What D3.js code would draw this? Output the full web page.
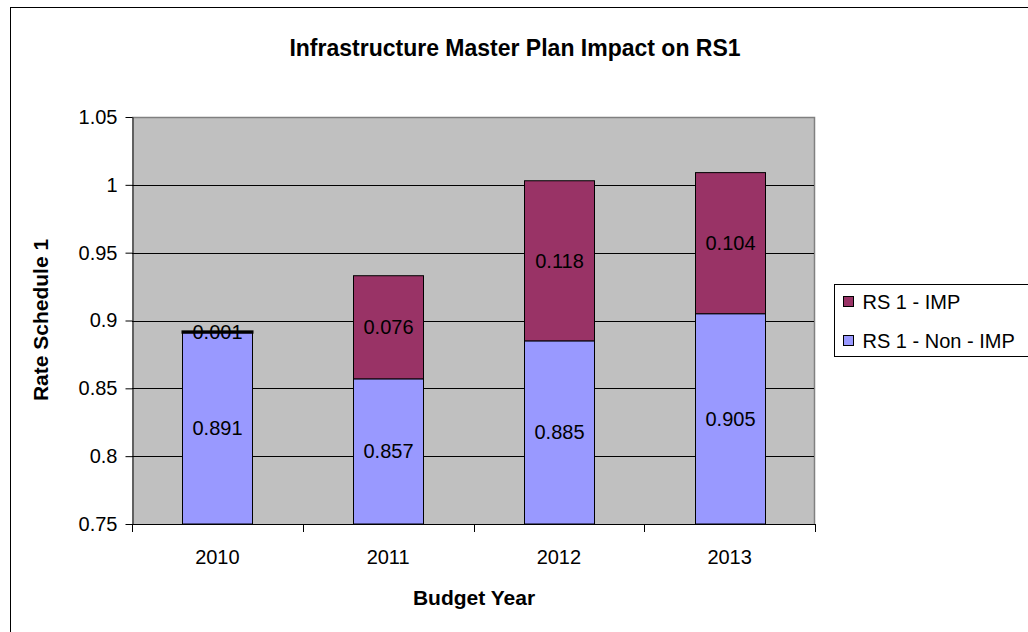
<!DOCTYPE html>
<html>
<head>
<meta charset="utf-8">
<script src="https://cdn.jsdelivr.net/npm/d3@7/dist/d3.min.js"></script>
<style>
  html,body{margin:0;padding:0;background:#fff;}
  svg{display:block;font-family:Arial,"Liberation Sans",sans-serif;}
</style>
</head>
<body>
<svg id="chart" width="1028" height="632"></svg>
<script>
const years=['2010','2011','2012','2013'];
const nonImp=[0.891,0.857,0.885,0.905];
const imp=[0.001,0.076,0.118,0.104];
const yTicks=[0.75,0.8,0.85,0.9,0.95,1,1.05];
const seriesNames=['RS 1 - IMP','RS 1 - Non - IMP'];
const colors={imp:'#993366',non:'#9999ff'};

const FS=20;
const svg=d3.select('#chart');
const m={l:132,r:815,t:117,b:524};

// outer chart frame (cut by the window at right and bottom)
svg.append('rect').attr('x',10.5).attr('y',7.5).attr('width',1100).attr('height',700)
  .attr('fill','#fff').attr('stroke','#000').attr('stroke-width',1);

const x=d3.scaleBand().domain(years).range([m.l,m.r]).paddingInner(0.59).paddingOuter(0.295);
const y=d3.scaleLinear().domain([0.75,1.05]).range([m.b,m.t]);

// plot area
svg.append('rect').attr('x',m.l).attr('y',m.t).attr('width',m.r-m.l).attr('height',m.b-m.t).attr('fill','#c0c0c0');
svg.append('path').attr('d',`M${m.l},${m.t+0.5}H${m.r-0.5}V${m.b}`).attr('fill','none').attr('stroke','#808080').attr('stroke-width',1.5);

// gridlines
svg.append('g').selectAll('line').data(yTicks.slice(1,-1)).join('line')
  .attr('x1',m.l).attr('x2',m.r-1).attr('y1',d=>Math.round(y(d))+0.5).attr('y2',d=>Math.round(y(d))+0.5)
  .attr('stroke','#000').attr('stroke-width',1);

// bars
const rows=years.map((yr,i)=>({yr,non:nonImp[i],imp:imp[i]}));
const g=svg.append('g');
rows.forEach(d=>{
  const bx=Math.round(x(d.yr))+0.5,bw=Math.round(x.bandwidth());
  const y0=y(0.75),y1=y(d.non),y2=y(d.non+d.imp);
  g.append('rect').attr('x',bx).attr('y',y1).attr('width',bw).attr('height',y0-y1)
    .attr('fill',colors.non).attr('stroke','#000').attr('stroke-width',1);
  g.append('rect').attr('x',bx).attr('y',y2).attr('width',bw).attr('height',Math.max(0.5,y1-y2))
    .attr('fill',colors.imp).attr('stroke','#000').attr('stroke-width',d.imp<0.005?2:1);
  g.append('text').attr('x',bx+bw/2).attr('y',(y0+y1)/2).attr('dy','0.35em')
    .attr('text-anchor','middle').attr('font-size',FS).attr('fill','#000').text(d.non);
  g.append('text').attr('x',bx+bw/2).attr('y',(y1+y2)/2).attr('dy','0.35em')
    .attr('text-anchor','middle').attr('font-size',FS).attr('fill','#000').text(d.imp);
});

// axes
const yAxis=svg.append('g').attr('transform',`translate(${m.l+0.5},0)`)
  .call(d3.axisLeft(y).tickValues(yTicks).tickSize(7).tickSizeOuter(0).tickPadding(8).tickFormat(d=>String(d)));
yAxis.select('.domain').attr('stroke','#000');
yAxis.selectAll('.tick line').attr('stroke','#000');
yAxis.selectAll('text').attr('font-size',FS).attr('fill','#000').attr('font-family','Arial,"Liberation Sans",sans-serif');

const xAxis=svg.append('g').attr('transform',`translate(0,${m.b+0.5})`)
  .call(d3.axisBottom(x).tickSize(0).tickPadding(25));
xAxis.select('.domain').remove();
xAxis.selectAll('text').attr('font-size',FS).attr('fill','#000').attr('font-family','Arial,"Liberation Sans",sans-serif');
svg.append('line').attr('x1',m.l).attr('x2',m.r).attr('y1',m.b+0.5).attr('y2',m.b+0.5).attr('stroke','#000');
const step=x.step();
svg.append('g').selectAll('line').data(d3.range(years.length+1)).join('line')
  .attr('x1',i=>Math.round(m.l+i*step)+0.5).attr('x2',i=>Math.round(m.l+i*step)+0.5)
  .attr('y1',m.b).attr('y2',m.b+8).attr('stroke','#000');

// titles
svg.append('text').attr('x',515).attr('y',56).attr('text-anchor','middle')
  .attr('font-size',23).attr('font-weight','bold').text('Infrastructure Master Plan Impact on RS1');
svg.append('text').attr('x',474).attr('y',605).attr('text-anchor','middle')
  .attr('font-size',21).attr('font-weight','bold').text('Budget Year');
svg.append('text').attr('transform','translate(48,320) rotate(-90)').attr('text-anchor','middle')
  .attr('font-size',21).attr('font-weight','bold').text('Rate Schedule 1');

// legend
const lg=svg.append('g').attr('transform','translate(834.5,284.5)');
lg.append('rect').attr('width',300).attr('height',72).attr('fill','#fff').attr('stroke','#000');
[colors.imp,colors.non].forEach((c,i)=>{
  lg.append('rect').attr('x',9).attr('y',12+i*39).attr('width',10).attr('height',10)
    .attr('fill',c).attr('stroke','#000');
  lg.append('text').attr('x',28).attr('y',17.5+i*39).attr('dy','0.35em').attr('font-size',FS).text(seriesNames[i]);
});
</script>
</body>
</html>
